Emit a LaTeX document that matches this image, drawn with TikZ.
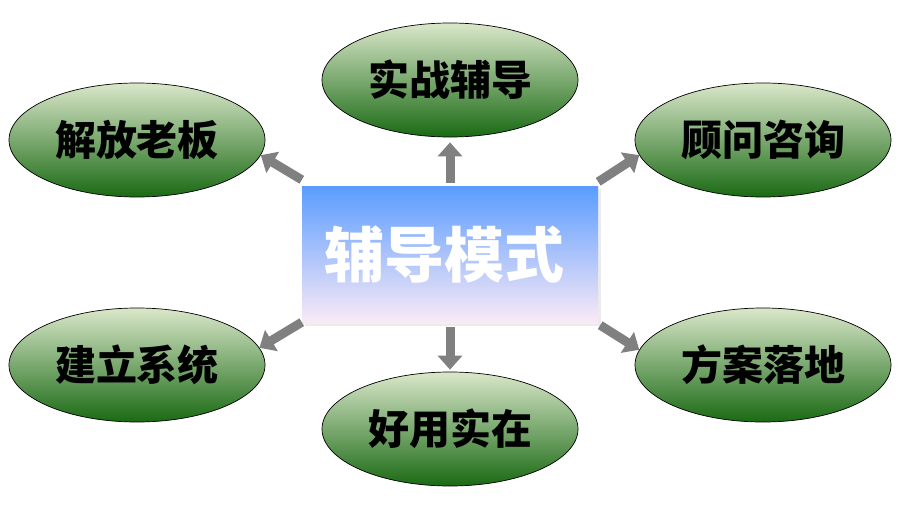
\documentclass[tikz,border=0pt]{standalone}
\usepackage{fontspec}
\newfontfamily\cjk{Noto Sans CJK SC Black}
\usepackage{xcolor}
\usepackage{tikz}
\usetikzlibrary{shapes,shapes.geometric,shadows}
\usetikzlibrary{calc,arrows.meta,positioning}
\definecolor{leafhi}{HTML}{DAE7CA}
\definecolor{leafmid}{HTML}{A9C183}
\definecolor{leaflo}{HTML}{1A6A14}
\definecolor{skyhi}{HTML}{5A9CFF}
\definecolor{skymid}{HTML}{8DBCFA}
\definecolor{skylo}{HTML}{FBEAF6}
\definecolor{arrgray}{HTML}{808080}
\tikzset{
  modebox/.style={fill=skymid, top color=skyhi, middle color=skymid,
  bottom color=skylo, minimum width=296pt, minimum height=137pt,
  inner sep=0pt, text=white, font=\cjk\fontsize{60}{61}\selectfont,
  drop shadow={shadow xshift=3pt, shadow yshift=-3pt, fill=black!8,
  opacity=1}},
  leaf/.style={ellipse, draw=black, line width=0.7pt, top color=leafhi,
  middle color=leafmid, bottom color=leaflo, minimum width=256pt,
  minimum height=114pt, inner sep=0pt,
  font=\cjk\fontsize{41}{42}\selectfont},
  arr/.style={draw=arrgray, line width=9pt,
  -{Triangle[width=24pt,length=14pt]}}
}
\begin{document}
\begin{tikzpicture}[x=1pt,y=-1pt]
\useasboundingbox (0,0) rectangle (911,519);
\node[modebox] (mode) at (450,254.5) {辅导模式\hspace*{12pt}};
\node[leaf] (sz) at (450,80) {实战辅导};
\node[leaf] (jf) at (137,140) {解放老板};
\node[leaf] (gw) at (763,140) {顾问咨询};
\node[leaf] (jl) at (137,365) {建立系统};
\node[leaf] (hy) at (450,429) {好用实在};
\node[leaf] (fa) at (763,365) {方案落地};
\draw[arr] ([yshift=3pt]mode.north) -- ([yshift=-5pt]sz.south);
\draw[arr] ([yshift=-4pt]mode.south) -- ([yshift=2pt]hy.north);
\draw[arr] ([yshift=6pt]mode.north west) -- (jf.-7);
\draw[arr] ([yshift=4pt]mode.north east) -- (gw.187);
\draw[arr] ([yshift=1pt]mode.south west) -- (jl.8);
\draw[arr] ([xshift=2pt,yshift=-2pt]mode.south east) -- (fa.173);
\end{tikzpicture}
\end{document}
